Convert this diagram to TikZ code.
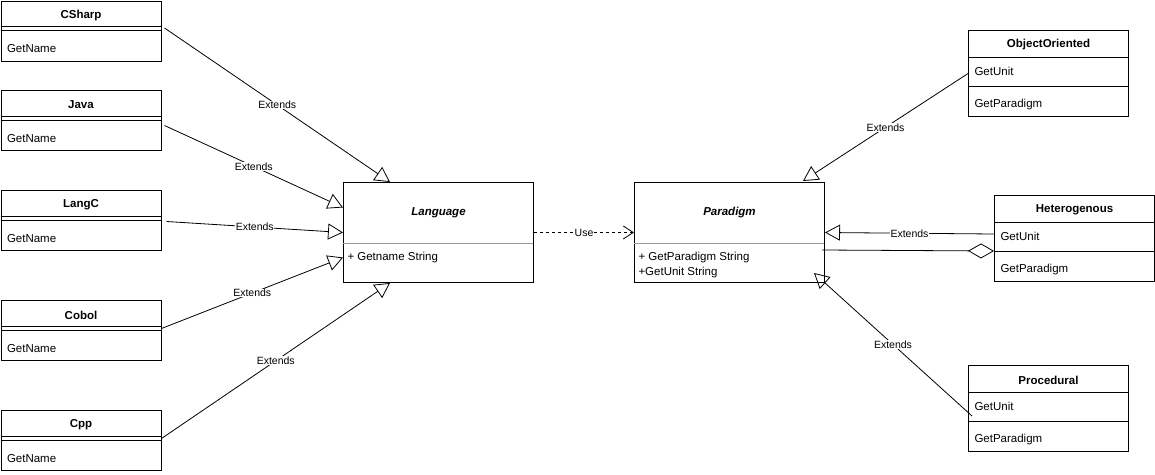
\documentclass[tikz,border=0pt]{standalone}
\usepackage{fontspec}
\setmainfont{Liberation Sans}
\usetikzlibrary{arrows.meta, positioning, calc}
\definecolor{csep}{HTML}{999999}
\tikzset{
  every picture/.style={font=\fontsize{11.5}{13}\selectfont, line width=1pt},
  cls/.style={draw, anchor=north west, minimum width=160pt, minimum height=#1, inner sep=0pt},
  cls/.default=60pt,
  abs/.style={draw, anchor=north west, minimum width=190pt, minimum height=100pt, inner sep=0pt},
  ttl/.style={font=\fontsize{11.5}{13}\selectfont\bfseries, inner sep=0pt},
  mem/.style={anchor=west, inner sep=0pt},
  lbl/.style={fill=white, inner sep=0.5pt, font=\fontsize{10.5}{12}\selectfont},
  ext/.style={-{Triangle[open, length=15pt, width=16pt]}, line width=0.8pt},
  use/.style={-{Straight Barb[length=10pt, width=13pt]}, dashed, line width=0.8pt},
  agg/.style={-{Diamond[open, length=26pt, width=15pt]}, line width=0.8pt},
}

\begin{document}
\begin{tikzpicture}[x=1pt, y=-1pt]
  \useasboundingbox (0,0) rectangle (1155,474);
  % languages on the left
  \foreach \n/\t/\y in {cs/CSharp/0.5, jv/Java/90, lc/LangC/190, cb/Cobol/300, cp/Cpp/410} {
    \node[cls] (\n) at (0.5,\y) {};
    \node[ttl] (\n-t) at ($(\n.north)+(0,15)$) {\t};
    \draw ($(\n.north west)+(0,26)$) -- ++(160,0) ($(\n.north west)+(0,30)$) -- ++(160,0);
    \node[mem] (\n-m) at ($(\n.north west)+(6,48.5)$) {GetName};
  }
  % abstract classes
  \node[abs] (lang) at (343,182) {};
  \node[ttl, font=\fontsize{11.5}{13}\selectfont\bfseries\itshape] (lang-t) at ($(lang.north)+(0,30.5)$) {Language};
  \draw[csep] ($(lang.north west)+(0,61)$) -- ++(190,0);
  \node[mem] (lang-m) at ($(lang.north west)+(4,75.5)$) {+ Getname String};
  \node[abs] (para) at (634,182) {};
  \node[ttl, font=\fontsize{11.5}{13}\selectfont\bfseries\itshape] (para-t) at ($(para.north)+(0,30.5)$) {Paradigm};
  \draw[csep] ($(para.north west)+(0,61)$) -- ++(190,0);
  \node[mem] (para-m1) at ($(para.north west)+(4,75.5)$) {+ GetParadigm String};
  \node[mem] (para-m2) at ($(para.north west)+(4,90.5)$) {+GetUnit String};
  % paradigms on the right
  \foreach \n/\t/\x/\y in {oo/ObjectOriented/968/30, het/Heterogenous/994/195, proc/Procedural/968/365} {
    \node[cls=86pt] (\n) at (\x,\y) {};
    \node[ttl] (\n-t) at ($(\n.north)+(0,15)$) {\t};
    \draw ($(\n.north west)+(0,27)$) -- ++(160,0) ($(\n.north west)+(0,56)$) -- ++(160,0);
    \node[mem] (\n-u) at ($(\n.north west)+(6,41)$) {GetUnit};
    \node[mem] (\n-p) at ($(\n.north west)+(6,74.5)$) {GetParadigm};
  }
  \coordinate (lt) at ($(lang.north west)+(47,0)$);
  \coordinate (lb) at ($(lang.south west)+(47,0)$);
  \draw[ext] (cs.east) ++(3,-3) -- (lt) node[lbl, midway] {Extends};
  \draw[ext] (jv.east) ++(3,5) -- ($(lang.west)+(0,-25)$) node[lbl, midway] {Extends};
  \draw[ext] (lc.east) ++(5,1) -- (lang.west) node[lbl, midway] {Extends};
  \draw[ext] (cb.east) ++(0,-2) -- ($(lang.west)+(0,25)$) node[lbl, midway] {Extends};
  \draw[ext] (cp.east) ++(0,-2) -- (lb) node[lbl, midway] {Extends};
  \draw[use] (lang.east) -- (para.east -| para.west) node[lbl, midway] {Use};
  \draw[ext] (oo.west) -- ($(para.north east)+(-22,-1)$) node[lbl, midway] {Extends};
  \draw[ext] ($(het.north west)+(0,39)$) -- (para.east) node[lbl, midway] {Extends};
  \draw[agg] ($(para.north east)+(-3,68)$) -- ($(het.north west)+(0,56)$);
  \coordinate (pin) at ($(proc.north west)+(4,51)$);
  \draw[ext] (pin) -- ($(para.south east)+(-11,-10)$) node[lbl, midway] {Extends};
\end{tikzpicture}
\end{document}
